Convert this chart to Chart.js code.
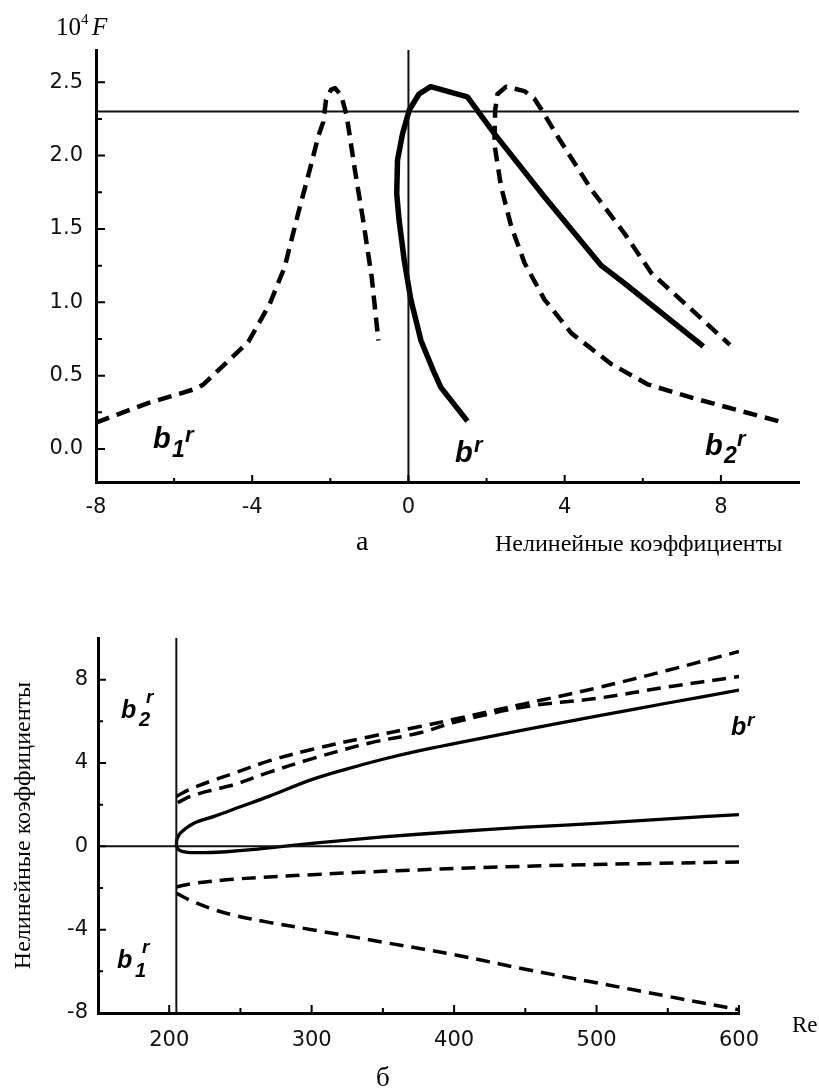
<!DOCTYPE html>
<html>
<head>
<meta charset="utf-8">
<script src="https://cdn.jsdelivr.net/npm/chart.js@4"></script>
<style>
  html, body { margin: 0; padding: 0; background: #fff; }
  #page { position: relative; width: 819px; height: 1090px; }
  #topChart { position: absolute; left: 0; top: 0; }
  #reChart { position: absolute; left: 0; top: 530px; }
</style>
</head>
<body>
<div id="page">
  <canvas id="topChart" width="819" height="565"></canvas>
  <canvas id="reChart" width="819" height="560"></canvas>
</div>
<script>
// panel а: 10^4 F against the nonlinear coefficients
const topXRange = [-8, 10];
const topYRange = [-0.225, 2.72];
const topXTicks = [-8, -6, -4, -2, 0, 2, 4, 6, 8];
const topYTicks = [0, 0.25, 0.5, 0.75, 1, 1.25, 1.5, 1.75, 2, 2.25, 2.5];
const topLevel = 2.3;

const b1F = [
  [-8.0, 0.18], [-6.7, 0.31], [-5.45, 0.41], [-5.25, 0.44], [-4.1, 0.73],
  [-3.55, 0.99], [-3.17, 1.24], [-2.82, 1.61], [-2.53, 1.90], [-2.31, 2.13],
  [-2.18, 2.23], [-2.11, 2.38], [-1.98, 2.45], [-1.88, 2.46], [-1.72, 2.41],
  [-1.58, 2.27], [-1.37, 1.90], [-1.16, 1.56], [-0.94, 1.17], [-0.77, 0.74]
];
const bF = [
  [1.51, 0.19], [0.83, 0.42], [0.66, 0.52], [0.32, 0.74], [0.06, 1.02],
  [-0.11, 1.29], [-0.24, 1.56], [-0.30, 1.74], [-0.28, 1.97], [-0.15, 2.15],
  [0.02, 2.31], [0.27, 2.42], [0.57, 2.47], [1.51, 2.40], [2.20, 2.15],
  [3.48, 1.72], [4.94, 1.25], [5.53, 1.13], [7.55, 0.70]
];
const b2F = [
  [9.47, 0.19], [7.25, 0.35], [6.13, 0.44], [5.19, 0.58], [4.17, 0.79],
  [3.48, 1.02], [2.97, 1.27], [2.63, 1.52], [2.37, 1.79], [2.20, 2.08],
  [2.22, 2.31], [2.28, 2.42], [2.50, 2.47], [2.97, 2.44], [3.22, 2.39],
  [3.44, 2.30], [3.82, 2.13], [4.68, 1.77], [5.53, 1.47], [6.22, 1.20],
  [7.25, 0.95], [8.23, 0.71]
];

// panel б: coefficients against Re
const reXRange = [150, 600];
const reYRange = [-8, 10];
const reXTicks = [200, 250, 300, 350, 400, 450, 500, 550, 600];
const reYTicks = [-8, -6, -4, -2, 0, 2, 4, 6, 8];
const reCritical = 205;

const b2UpperRe = [
  [205, 2.4], [215, 2.75], [230, 3.15], [245, 3.5], [270, 4.1], [300, 4.65],
  [340, 5.25], [376, 5.75], [400, 6.1], [450, 6.85], [500, 7.6], [550, 8.45], [600, 9.35]
];
const b2LowerRe = [
  [206, 2.1], [215, 2.4], [230, 2.7], [245, 2.95], [270, 3.55], [300, 4.2],
  [340, 4.95], [376, 5.45], [400, 5.95], [450, 6.7], [500, 7.1], [550, 7.65], [600, 8.15]
];
const bUpperRe = [
  [205, 0.0], [205.5, 0.35], [208, 0.65], [217, 1.1], [232, 1.45], [250, 1.9],
  [270, 2.4], [300, 3.2], [325, 3.72], [350, 4.18], [375, 4.58], [400, 4.93],
  [450, 5.6], [500, 6.25], [550, 6.88], [600, 7.5]
];
const bLowerRe = [
  [205, 0.08], [206, -0.12], [209, -0.24], [215, -0.3], [225, -0.3], [240, -0.26],
  [260, -0.15], [280, 0.0], [300, 0.14], [350, 0.45], [400, 0.7], [450, 0.92],
  [500, 1.1], [550, 1.32], [600, 1.52]
];
const b1UpperRe = [
  [205, -1.95], [215, -1.8], [245, -1.58], [300, -1.36], [360, -1.17],
  [420, -1.02], [480, -0.9], [540, -0.82], [600, -0.75]
];
const b1LowerRe = [
  [205, -2.25], [215, -2.6], [230, -3.0], [245, -3.3], [270, -3.65], [300, -4.0],
  [350, -4.6], [400, -5.2], [450, -5.9], [500, -6.55], [550, -7.2], [600, -7.84]
];

function isMajor(v, step) {
  const q = v / step;
  return Math.abs(q - Math.round(q)) < 1e-6;
}

function curve(points, dashed, width, tension) {
  return {
    data: points.map(p => ({ x: p[0], y: p[1] })),
    showLine: true,
    pointRadius: 0,
    borderColor: '#000',
    borderWidth: width,
    borderDash: dashed ? [14, 8] : [],
    borderJoinStyle: 'round',
    tension: tension,
    fill: false
  };
}

function refLine(points) {
  return {
    data: points.map(p => ({ x: p[0], y: p[1] })),
    showLine: true, pointRadius: 0,
    borderColor: '#111', borderWidth: 2, tension: 0
  };
}

function axis(range, ticks, step, digits, pad, size) {
  return {
    type: 'linear',
    min: range[0], max: range[1],
    grid: { display: false, drawTicks: false },
    border: { display: true, color: '#000', width: 3 },
    afterBuildTicks: s => { s.ticks = ticks.map(v => ({ value: v })); },
    afterFit: s => { if (s.isHorizontal()) s.height = size; else s.width = size; },
    ticks: {
      autoSkip: false, maxRotation: 0, minRotation: 0, padding: pad,
      color: '#111', font: { family: 'DejaVu Sans', size: 21 },
      callback: v => isMajor(v, step) ? v.toFixed(digits) : ''
    }
  };
}

// tick marks pointing into the plot
const innerTicks = {
  id: 'innerTicks',
  afterDatasetsDraw(chart, args, o) {
    const { ctx, chartArea } = chart;
    const sx = chart.scales.x, sy = chart.scales.y;
    ctx.save();
    ctx.strokeStyle = '#000';
    ctx.lineWidth = 2;
    ctx.beginPath();
    sx.ticks.forEach(t => {
      const px = sx.getPixelForValue(t.value);
      const len = isMajor(t.value, o.xStep) ? o.xMajor : o.xMinor;
      ctx.moveTo(px, chartArea.bottom);
      ctx.lineTo(px, chartArea.bottom - len);
    });
    sy.ticks.forEach(t => {
      const py = sy.getPixelForValue(t.value);
      const len = isMajor(t.value, o.yStep) ? o.yMajor : o.yMinor;
      ctx.moveTo(chartArea.left, py);
      ctx.lineTo(chartArea.left + len, py);
    });
    ctx.stroke();
    ctx.restore();
  }
};

// free text: curve names, panel letters, axis captions
const notes = {
  id: 'notes',
  afterDraw(chart, args, o) {
    const ctx = chart.ctx;
    ctx.save();
    ctx.fillStyle = '#000';
    ctx.textBaseline = 'alphabetic';
    (o.items || []).forEach(it => {
      ctx.font = it.font;
      ctx.fillText(it.text, it.x, it.y);
    });
    ctx.restore();
  }
};

const serif = '"Liberation Serif", "Times New Roman", serif';
const bi = s => 'italic bold ' + s + 'px "Liberation Sans", Arial, sans-serif';

new Chart(document.getElementById('topChart'), {
  type: 'scatter',
  data: {
    datasets: [
      refLine([[topXRange[0], topLevel], [topXRange[1], topLevel]]),
      refLine([[0, topYRange[0]], [0, topYRange[1]]]),
      curve(b1F, true, 4.5, 0),
      curve(b2F, true, 4.5, 0),
      curve(bF, false, 5.5, 0)
    ]
  },
  options: {
    responsive: false,
    animation: false,
    layout: { padding: { left: 0, top: 50, right: 20, bottom: 0 } },
    scales: {
      x: axis(topXRange, topXTicks, 4, 0, 13, 83),
      y: axis(topYRange, topYTicks, 0.5, 1, 13, 96)
    },
    plugins: {
      legend: { display: false },
      tooltip: { enabled: false },
      innerTicks: { xStep: 4, xMajor: 7, xMinor: 4, yStep: 0.5, yMajor: 9, yMinor: 6 },
      notes: {
        items: [
          { text: '10', font: '25px ' + serif, x: 56, y: 35 },
          { text: '4', font: '15px ' + serif, x: 81, y: 24 },
          { text: 'F', font: 'italic 25px ' + serif, x: 92, y: 35 },
          { text: 'а', font: '28px ' + serif, x: 356, y: 550 },
          { text: 'Нелинейные коэффициенты', font: '24px ' + serif, x: 495, y: 551 },
          { text: 'b', font: bi(29), x: 153, y: 448 },
          { text: '1', font: bi(23), x: 172, y: 457 },
          { text: 'r', font: bi(22), x: 185, y: 442 },
          { text: 'b', font: bi(29), x: 455, y: 462 },
          { text: 'r', font: bi(22), x: 474, y: 452 },
          { text: 'b', font: bi(29), x: 705, y: 455 },
          { text: '2', font: bi(23), x: 724, y: 463 },
          { text: 'r', font: bi(22), x: 737, y: 446 }
        ]
      }
    }
  },
  plugins: [innerTicks, notes]
});

const reY = axis(reYRange, reYTicks, 4, 0, 10, 98);
reY.title = {
  display: true, text: 'Нелинейные коэффициенты', color: '#000',
  font: { family: 'Liberation Serif', size: 24 }, padding: { top: 9, bottom: 0 }
};

new Chart(document.getElementById('reChart'), {
  type: 'scatter',
  data: {
    datasets: [
      refLine([[reXRange[0], 0], [reXRange[1], 0]]),
      refLine([[reCritical, reYRange[0]], [reCritical, reYRange[1]]]),
      curve(b2UpperRe, true, 3.5, 0.35),
      curve(b2LowerRe, true, 3.5, 0.35),
      curve(bUpperRe, false, 3.3, 0.35),
      curve(bLowerRe, false, 3.3, 0.35),
      curve(b1UpperRe, true, 3.5, 0.35),
      curve(b1LowerRe, true, 3.5, 0.35)
    ]
  },
  options: {
    responsive: false,
    animation: false,
    layout: { padding: { left: 0, top: 108, right: 80, bottom: 0 } },
    scales: {
      x: axis(reXRange, reXTicks, 100, 0, 15, 77),
      y: reY
    },
    plugins: {
      legend: { display: false },
      tooltip: { enabled: false },
      innerTicks: { xStep: 100, xMajor: 8, xMinor: 5, yStep: 4, yMajor: 8, yMinor: 5 },
      notes: {
        items: [
          { text: 'б', font: '27px ' + serif, x: 376, y: 556 },
          { text: 'Re', font: '23px ' + serif, x: 792, y: 502 },
          { text: 'b', font: bi(25), x: 121, y: 188 },
          { text: '2', font: bi(20), x: 139, y: 196 },
          { text: 'r', font: bi(19), x: 146, y: 173 },
          { text: 'b', font: bi(25), x: 117, y: 438 },
          { text: '1', font: bi(20), x: 135, y: 447 },
          { text: 'r', font: bi(19), x: 142, y: 423 },
          { text: 'b', font: bi(25), x: 731, y: 205 },
          { text: 'r', font: bi(19), x: 747, y: 196 }
        ]
      }
    }
  },
  plugins: [innerTicks, notes]
});
</script>
</body>
</html>
